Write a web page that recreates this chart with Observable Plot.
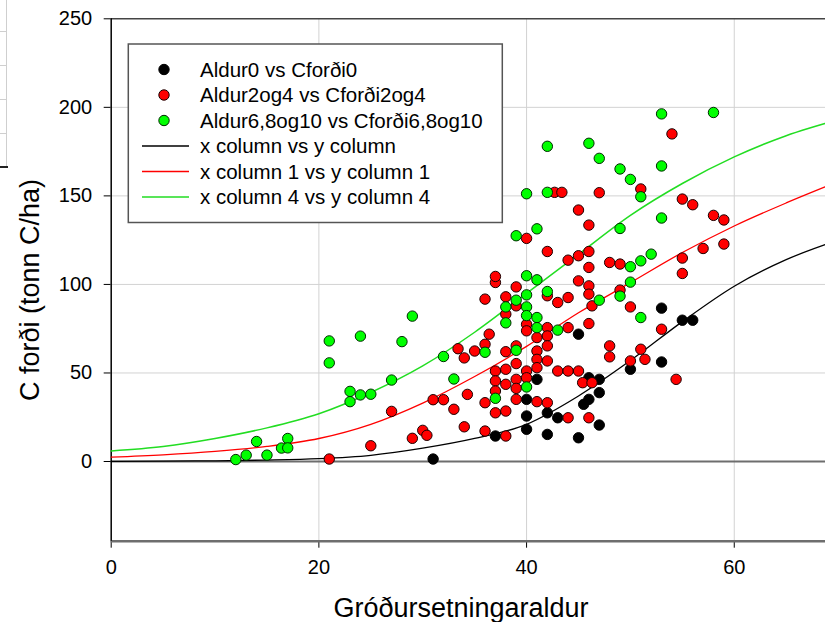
<!DOCTYPE html>
<html>
<head>
<meta charset="utf-8">
<script src="https://cdn.jsdelivr.net/npm/d3@7"></script>
<script src="https://cdn.jsdelivr.net/npm/@observablehq/plot@0.6"></script>
<style>
  html, body { margin: 0; padding: 0; overflow: hidden; background: #fff; }
  #chart { position: absolute; left: 0; top: 0; width: 840px; }
  #chart svg { max-width: none !important; }
  .art { position: absolute; background: #cfcfcf; }
</style>
</head>
<body>
<div id="chart"></div>
<div class="art" style="left:6px;top:0;width:1px;height:166px"></div>
<div class="art" style="left:0;top:31px;width:6px;height:1px"></div>
<div class="art" style="left:0;top:65px;width:6px;height:1px"></div>
<div class="art" style="left:0;top:99px;width:6px;height:1px"></div>
<div class="art" style="left:0;top:133px;width:6px;height:1px"></div>
<div class="art" style="left:0;top:166px;width:8px;height:2px;background:#222"></div>
<script>
// ---- data ----
const aldur0 = [[31,1.4],[45,71.9],[41,46.4],[40,35.1],[40,25.7],[42,27.5],[40,18.2],[37,14.4],[42,15.3],[43,24.7],[45,13.4],[47,20.6],[50,52.1],[53,56.2],[47,46.4],[46,47.3],[47,38.9],[46,35.1],[45.5,32.3],[53,86.6],[55,79.8],[56,79.8]];

const aldur2og4 = [[21,1.4],[25,8.9],[27,28.3],[29,13.1],[30,17.6],[30.4,14.8],[31,34.9],[32,34.9],[33,29.5],[33.4,63.7],[34,58.5],[34,19.6],[34.3,37.9],[35,62.4],[36,66.2],[36,33.2],[36,17.2],[36,91.7],[36.4,71.9],[37,51.1],[37,45.5],[37,39.8],[37,27.5],[37,101.1],[37,104.5],[38,14.4],[38,28.5],[38,43.6],[38,52.1],[38,62.0],[38,83.2],[38,93.0],[39,98.6],[39,87.9],[39,65.3],[39,55.3],[39,46.4],[39,41.3],[39,35.1],[40,77.5],[40,73.8],[40,51.1],[40,47.3],[40,126.0],[41,70.0],[41,62.4],[41,57.7],[41,53.0],[41,33.8],[42,75.6],[42,70.9],[42,65.3],[42,56.8],[42,33.2],[42,93.6],[42,118.6],[43,89.8],[43,51.1],[42.7,152.0],[43.4,152.0],[44,92.6],[44,75.6],[44,24.7],[44,51.1],[44,113.7],[45,51.1],[45,142.0],[45,116.2],[45,102.0],[45.4,44.5],[46,99.2],[46,94.5],[46,77.9],[46,24.7],[46,133.5],[46,118.6],[46,109.6],[46.3,44.5],[46.3,87.9],[47,151.8],[48,65.3],[48,59.1],[48,112.4],[49,111.5],[49,96.8],[50,87.3],[50,56.8],[51,63.4],[51,153.9],[51.4,57.7],[53,74.7],[54,185.0],[54.4,46.4],[55,148.2],[55,114.9],[55,106.2],[56,145.0],[57,120.3],[58,139.0],[59,136.4],[59,122.8]];

const aldur6810 = [[12,1.1],[13,3.6],[14,11.3],[15,3.6],[16.4,7.6],[17,13.0],[17,7.7],[21,68.1],[21,55.7],[24,70.8],[28,67.7],[29,82.1],[27,46.0],[23,39.6],[23,33.8],[24,37.6],[25,38.0],[32,59.3],[33,46.6],[36,61.7],[37,35.7],[38,87.3],[38,78.3],[39,91.1],[39,62.8],[40,94.1],[40,87.3],[40,82.4],[40,42.1],[41,81.3],[41,75.6],[42,96.0],[43,74.2],[47,91.1],[49,93.4],[42,178],[46,179.7],[47,171.2],[49,165.2],[40,151.2],[42,152.0],[39,127.5],[41,131.4],[40,104.9],[41,102.6],[49,131.6],[53,196.3],[58,197.1],[50,159.3],[51,149.5],[53,166.9],[53,137.5],[52,117.1],[51,113.3],[50,110.0],[50,101.3],[51,81.3]];

// fitted curves, values
const curveX     = [0, 5, 10, 15, 20, 25, 30, 35, 40, 45, 50, 55, 60, 65, 70];
const curveBlack = [0.1, 0.2, 0.4, 0.8, 1.6, 3.5, 7.5, 13, 21, 37, 57, 79, 99, 114, 125];
const curveRed   = [2.5, 3.8, 5.7, 8.5, 13, 21, 33, 48, 65, 84, 101, 118, 133, 146, 158];
const curveGreen = [6, 8.5, 13, 19, 27, 39, 54, 73, 95, 117, 139, 157, 172, 184, 193];

const xTicks = [0, 20, 40, 60];
const yTicks = [0, 50, 100, 150, 200, 250];
const xGrid = [20, 40, 60];
const yGrid = [50, 100, 150, 200];
const xDomain = [0, 70];
const yDomain = [-45, 250];

const legendLabels = ["Aldur0 vs Cforði0", "Aldur2og4 vs Cforði2og4", "Aldur6,8og10 vs Cforði6,8og10",
  "x column vs y column", "x column 1 vs y column 1", "x column 4 vs y column 4"];
const xTitle = "Gróðursetningaraldur";
const yTitle = "C forði (tonn C/ha)";

// ---- build ----
const cBlack = "#000000", cRed = "#ff0000", cGreen = "#00ff00", cGreenLine = "#22dd22";
const toPts = a => a.map(([x, y]) => ({x, y}));
const curve = ys => curveX.map((x, i) => ({x, y: ys[i]}));
const FONT = "'Liberation Sans', Arial, sans-serif";

const W = 840, H = 622;
const plot = Plot.plot({
  width: W, height: H,
  marginLeft: 110.7, marginRight: 2.4, marginTop: 18.3, marginBottom: 81.3,
  style: {fontFamily: FONT, fontSize: "20px", background: "white", overflow: "visible", color: "#000", maxWidth: "none"},
  x: {domain: xDomain, ticks: xTicks, tickSize: 7, tickPadding: 12, label: null},
  y: {domain: yDomain, ticks: yTicks, tickSize: 7, tickPadding: 12, label: null},
  marks: [
    Plot.ruleX(xGrid, {stroke: "#d2d2d2", strokeWidth: 1}),
    Plot.ruleY(yGrid, {stroke: "#d2d2d2", strokeWidth: 1}),
    Plot.ruleY([0], {stroke: "#6e6e6e", strokeWidth: 2}),
    Plot.ruleY([yDomain[0]], {stroke: "#6e6e6e", strokeWidth: 2.5}),
    Plot.ruleY([yDomain[1]], {stroke: "#444", strokeWidth: 1.5}),
    Plot.ruleX([0], {stroke: "#000", strokeWidth: 1.5}),
    Plot.line(curve(curveBlack), {x: "x", y: "y", stroke: cBlack, strokeWidth: 1.3, curve: "monotone-x"}),
    Plot.line(curve(curveRed), {x: "x", y: "y", stroke: cRed, strokeWidth: 1.3, curve: "monotone-x"}),
    Plot.line(curve(curveGreen), {x: "x", y: "y", stroke: cGreenLine, strokeWidth: 1.5, curve: "monotone-x"}),
    Plot.dot(toPts(aldur0), {x: "x", y: "y", r: 5.2, fill: cBlack, stroke: "#000", strokeWidth: 1}),
    Plot.dot(toPts(aldur2og4), {x: "x", y: "y", r: 5.2, fill: cRed, stroke: "#1a0000", strokeWidth: 1}),
    Plot.dot(toPts(aldur6810), {x: "x", y: "y", r: 5.2, fill: cGreen, stroke: "#002a00", strokeWidth: 1})
  ]
});
plot.style.maxWidth = "none";
plot.style.width = W + "px";
plot.style.height = H + "px";
document.getElementById("chart").appendChild(plot);

const svg = d3.select(plot);
// axis titles
svg.append("text").attr("x", 461).attr("y", 617).attr("text-anchor", "middle")
  .style("font-size", "27px").style("font-family", FONT).attr("fill", "#000").text(xTitle);
svg.append("text").attr("transform", "translate(39,290) rotate(-90)").attr("text-anchor", "middle")
  .style("font-size", "27px").style("font-family", FONT).attr("fill", "#000").text(yTitle);

// legend
const lg = svg.append("g").style("font-family", FONT).style("font-size", "20.5px").attr("text-anchor", "start");
lg.append("rect").attr("x", 128.3).attr("y", 44).attr("width", 374).attr("height", 178.5)
  .attr("fill", "#fff").attr("stroke", "#555").attr("stroke-width", 1.5);
const legendStyle = [
  {type: "dot", fill: cBlack, stroke: "#000"},
  {type: "dot", fill: cRed, stroke: "#1a0000"},
  {type: "dot", fill: cGreen, stroke: "#002a00"},
  {type: "line", stroke: cBlack},
  {type: "line", stroke: cRed},
  {type: "line", stroke: cGreenLine}
];
legendLabels.forEach((lab, i) => {
  const y = 69.5 + i * 25.5;
  const s = legendStyle[i];
  if (s.type === "dot") {
    lg.append("circle").attr("cx", 164).attr("cy", y).attr("r", 5.2).attr("fill", s.fill).attr("stroke", s.stroke);
  } else {
    lg.append("line").attr("x1", 142).attr("x2", 189).attr("y1", y).attr("y2", y).attr("stroke", s.stroke).attr("stroke-width", 1.4);
  }
  lg.append("text").attr("x", 200).attr("y", y).attr("dy", "0.36em").attr("text-anchor", "start").attr("fill", "#000").text(lab);
});
</script>
</body>
</html>
